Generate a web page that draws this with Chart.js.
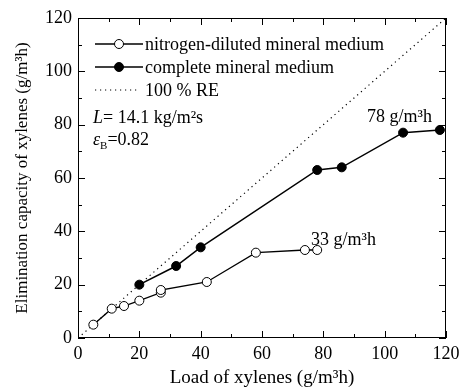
<!DOCTYPE html>
<html>
<head>
<meta charset="utf-8">
<script src="https://cdn.jsdelivr.net/npm/chart.js@4.4.1/dist/chart.umd.min.js"></script>
<style>
  html, body { margin: 0; padding: 0; background: #fff; }
  #wrap { width: 460px; height: 388px; }
</style>
</head>
<body>
<div id="wrap"><canvas id="ec_chart"></canvas></div>
<script>
// load (g/m3h) vs elimination capacity (g/m3h)
const nitrogenLoad = [5, 11, 15, 20, 27, 27, 42, 58, 74, 78];
const nitrogenEC = [5, 11, 12, 14, 17, 18, 21, 32, 33, 33];
const completeLoad = [20, 32, 40, 78, 86, 106, 118];
const completeEC = [20, 27, 34, 63, 64, 77, 78];
const reLine = [0, 120];
const tickValues = [0, 20, 40, 60, 80, 100, 120];

const serif = '"Liberation Serif", "Times New Roman", serif';
const textSize = 18;

const toPoints = (xs, ys) => xs.map((x, i) => ({ x: x, y: ys[i] }));

// box, inward ticks on all four sides, legend and notes
const framePlugin = {
  id: 'frame',
  afterDatasetsDraw(chart) {
    const { ctx, chartArea: a, scales } = chart;
    const xs = scales.x, ys = scales.y;
    ctx.save();
    ctx.strokeStyle = '#000';
    ctx.lineWidth = 1;
    ctx.strokeRect(a.left + 0.5, a.top + 0.5, a.right - a.left - 1, a.bottom - a.top - 1);

    ctx.beginPath();
    for (let v = 0; v <= 120; v += 10) {
      const len = v % 20 === 0 ? 7 : 4;
      const px = Math.round(xs.getPixelForValue(v)) + 0.5;
      ctx.moveTo(px, a.bottom); ctx.lineTo(px, a.bottom - len);
      ctx.moveTo(px, a.top); ctx.lineTo(px, a.top + len);
      const py = Math.round(ys.getPixelForValue(v)) + 0.5;
      ctx.moveTo(a.left, py); ctx.lineTo(a.left + len, py);
      ctx.moveTo(a.right, py); ctx.lineTo(a.right - len, py);
    }
    ctx.stroke();

    // legend
    ctx.font = textSize + 'px ' + serif;
    ctx.fillStyle = '#000';
    ctx.textBaseline = 'middle';
    const rows = [44, 67, 90];
    chart.data.datasets.forEach((ds, i) => {
      const y = rows[i];
      ctx.beginPath();
      ctx.lineWidth = ds.borderWidth;
      ctx.setLineDash(ds.borderDash || []);
      ctx.moveTo(95, y);
      ctx.lineTo(i === 2 ? 137 : 143, y);
      ctx.stroke();
      ctx.setLineDash([]);
      if (ds.pointRadius > 0) {
        ctx.beginPath();
        ctx.arc(119, y, ds.pointRadius, 0, Math.PI * 2);
        ctx.fillStyle = ds.pointBackgroundColor;
        ctx.fill();
        ctx.lineWidth = 1;
        ctx.stroke();
      }
      ctx.fillStyle = '#000';
      ctx.textAlign = 'left';
      ctx.fillText(ds.label, 145, y + 1);
    });

    // operating conditions
    ctx.font = 'italic ' + textSize + 'px ' + serif;
    ctx.fillText('L', 93, 118);
    let w = ctx.measureText('L').width;
    ctx.font = textSize + 'px ' + serif;
    ctx.fillText('= 14.1 kg/m\u00B2s', 93 + w, 118);
    ctx.font = 'italic ' + textSize + 'px ' + serif;
    ctx.fillText('\u03B5', 93, 140);
    w = ctx.measureText('\u03B5').width;
    ctx.font = '11px ' + serif;
    ctx.fillText('B', 93 + w, 146);
    const wb = ctx.measureText('B').width;
    ctx.font = textSize + 'px ' + serif;
    ctx.fillText('=0.82', 93 + w + wb, 140);

    // maximum elimination capacities
    ctx.fillText('78 g/m\u00B3h', 367, 117);
    ctx.fillText('33 g/m\u00B3h', 311, 240);
    ctx.restore();
  }
};

const chart = new Chart('ec_chart', {
  type: 'scatter',
  data: {
    datasets: [
      {
        label: 'nitrogen-diluted mineral medium',
        data: toPoints(nitrogenLoad, nitrogenEC),
        showLine: true,
        borderColor: '#000',
        borderWidth: 1.3,
        pointRadius: 4.5,
        pointBackgroundColor: '#fff',
        pointBorderColor: '#000',
        pointBorderWidth: 1,
      },
      {
        label: 'complete mineral medium',
        data: toPoints(completeLoad, completeEC),
        showLine: true,
        borderColor: '#000',
        borderWidth: 1.5,
        pointRadius: 4.5,
        pointBackgroundColor: '#000',
        pointBorderColor: '#000',
        pointBorderWidth: 1,
      },
      {
        label: '100 % RE',
        data: toPoints(reLine, reLine),
        showLine: true,
        borderColor: '#000',
        borderWidth: 1.2,
        borderDash: [1.2, 3.8],
        pointRadius: 0,
      },
    ],
  },
  options: {
    responsive: true,
    maintainAspectRatio: false,
    animation: false,
    layout: { padding: { top: 18, right: 14, left: 0, bottom: 0 } },
    plugins: {
      legend: { display: false },
      tooltip: { enabled: false },
    },
    scales: {
      x: {
        type: 'linear',
        min: 0,
        max: 120,
        afterBuildTicks: (scale) => { scale.ticks = tickValues.map(v => ({ value: v })); },
        afterFit: (scale) => { scale.height = 50; scale.paddingLeft = 0; scale.paddingRight = 0; },
        grid: { display: false, drawTicks: false },
        border: { display: false },
        ticks: { color: '#000', padding: 5, maxRotation: 0, font: { family: serif, size: textSize } },
        title: {
          display: true,
          text: 'Load of xylenes (g/m\u00B3h)',
          color: '#000',
          padding: { top: 0, bottom: 0 },
          font: { family: serif, size: 19, lineHeight: 1 },
        },
      },
      y: {
        type: 'linear',
        min: 0,
        max: 120,
        afterBuildTicks: (scale) => { scale.ticks = tickValues.map(v => ({ value: v })); },
        afterFit: (scale) => { scale.width = 78; scale.paddingTop = 0; scale.paddingBottom = 0; },
        grid: { display: false, drawTicks: false },
        border: { display: false },
        ticks: { color: '#000', padding: 6, font: { family: serif, size: textSize } },
        title: {
          display: true,
          text: 'Elimination capacity of xylenes (g/m\u00B3h)',
          color: '#000',
          padding: { top: 14, bottom: 0 },
          font: { family: serif, size: 17, lineHeight: 1 },
        },
      },
    },
  },
  plugins: [framePlugin],
});
</script>
</body>
</html>
